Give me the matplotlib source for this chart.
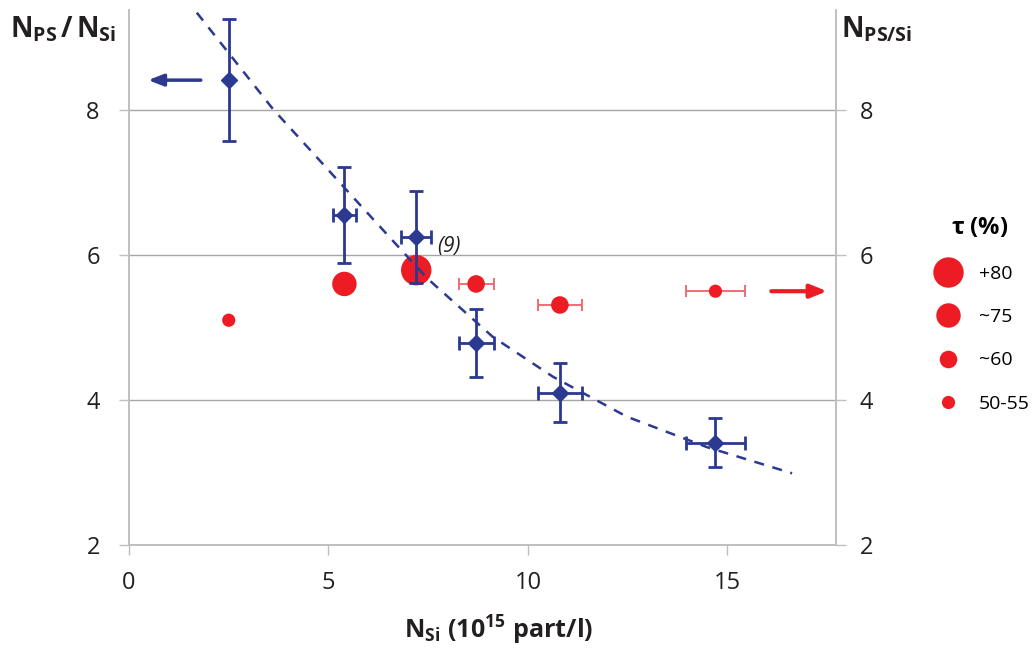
import matplotlib.pyplot as plt
from matplotlib.lines import Line2D
import numpy as np

# Datos
n_si = [2.5, 5.4, 7.2, 8.7, 10.8, 14.7]
n_si_err = [0.0, 0.28, 0.37, 0.44, 0.55, 0.74]
ratio = [8.41, 6.55, 6.25, 4.79, 4.10, 3.41]
ratio_err = [0.84, 0.66, 0.63, 0.47, 0.41, 0.34]

n_ps_si = [5.10, 5.60, 5.79, 5.60, 5.31, 5.50]
n_ps_si_xerr = [0.0, 0.0, 0.0, 0.44, 0.55, 0.74]
tau = ['50-55', '~75', '+80', '~60', '~60', '50-55']

# curva de tendencia (puntos leidos sobre la linea discontinua)
fit_x = [1.70, 3.61, 5.61, 7.47, 9.12, 10.63, 12.48, 14.49, 16.62]
fit_y = [9.34, 8.01, 6.80, 5.68, 4.87, 4.32, 3.77, 3.35, 2.99]

tau_labels = ['+80', '~75', '~60', '50-55']
tau_sizes = {'+80': 480, '~75': 310, '~60': 160, '50-55': 90}

blue = '#2B3990'
red = '#ED1C24'
red_light = '#F06368'
grey = '#BFBFBF'

plt.rcParams['font.family'] = 'Open Sans'
plt.rcParams['mathtext.fontset'] = 'custom'
plt.rcParams['mathtext.rm'] = 'Open Sans'
plt.rcParams['mathtext.bf'] = 'Open Sans:bold'
plt.rcParams['mathtext.it'] = 'Open Sans:italic'

fig = plt.figure(figsize=(10.32, 6.52), dpi=100)
ax = fig.add_axes([0.125, 0.164, 0.685, 0.821])

ax.set_xlim(0, 17.72)
ax.set_ylim(2, 9.38)
ax.set_xticks([0, 5, 10, 15])
ax.set_yticks([2, 4, 6, 8])
ax.grid(axis='y', color='#A6A6A6', lw=1)
ax.set_axisbelow(True)

ax.spines['top'].set_visible(False)
for s in ['left', 'right', 'bottom']:
    ax.spines[s].set_color(grey)
    ax.spines[s].set_linewidth(1.2)
ax.tick_params(axis='both', direction='out', length=7, color=grey, width=1,
               labelsize=17, labelcolor='#231F20')
ax.tick_params(axis='x', pad=12)
ax.tick_params(axis='y', pad=14)

ax2 = ax.twinx()
ax2.set_ylim(ax.get_ylim())
ax2.set_yticks([2, 4, 6, 8])
ax2.spines['top'].set_visible(False)
for s in ['left', 'right', 'bottom']:
    ax2.spines[s].set_color(grey)
    ax2.spines[s].set_linewidth(1.2)
ax2.tick_params(axis='y', direction='out', length=7, color=grey, width=1,
                labelsize=17, labelcolor='#231F20', pad=10)

# puntos rojos (eje derecho)
sizes = [tau_sizes[t] for t in tau]
for x, y, xe in zip(n_si, n_ps_si, n_ps_si_xerr):
    if xe > 0:
        ax.errorbar(x, y, xerr=xe, fmt='none', ecolor=red_light, elinewidth=1.3,
                    capsize=4, capthick=1.3, zorder=2)
ax.scatter(n_si, n_ps_si, s=sizes, color=red, edgecolors='none', zorder=3)

# curva
ax.plot(fit_x, fit_y, ls=(0, (4, 3.5)), color=blue, lw=1.8, zorder=4)

# puntos azules (eje izquierdo)
ax.errorbar(n_si, ratio, xerr=n_si_err, yerr=ratio_err, fmt='D', color=blue,
            ms=8, elinewidth=2, capsize=5, capthick=2, zorder=5)

ax.text(7.72, 6.12, '(9)', fontsize=15, style='italic', color='#231F20',
        ha='left', va='center')

# flechas
ax.annotate('', xy=(0.48, ratio[0]), xytext=(1.8, ratio[0]),
            arrowprops=dict(arrowstyle='-|>,head_length=0.9,head_width=0.35',
                            color=blue, lw=2.5, shrinkA=0, shrinkB=0))
ax.annotate('', xy=(17.5, n_ps_si[-1]), xytext=(16.1, n_ps_si[-1]),
            arrowprops=dict(arrowstyle='-|>,head_length=1.0,head_width=0.4',
                            color=red, lw=3, shrinkA=0, shrinkB=0))

# titulos de ejes
fig.text(0.01, 0.955, r'$\mathbf{N_{PS}\,/\,N_{Si}}$', fontsize=20, ha='left', va='center',
         color='#231F20')
fig.text(0.815, 0.955, r'$\mathbf{N_{PS/Si}}$', fontsize=20, ha='left', va='center',
         color='#231F20')
fig.text(0.483, 0.033, r'$\mathbf{N_{Si}\ (10^{15}\ part/l)}$', fontsize=18,
         ha='center', va='center', color='#231F20')

# leyenda tau
handles = [Line2D([], [], marker='o', ls='', color=red, markeredgewidth=0,
                  markersize=np.sqrt(tau_sizes[t])) for t in tau_labels]
leg = ax.legend(handles, tau_labels, title=r'$\mathbf{\tau}$ (%)', frameon=False,
                loc='upper left', bbox_to_anchor=(1.12, 0.63), fontsize=14,
                labelspacing=1.3, handletextpad=0.6, borderaxespad=0,
                title_fontproperties={'weight': 'bold', 'size': 17})
leg._legend_box.align = 'center'

fig.savefig('out.png', dpi=100)
